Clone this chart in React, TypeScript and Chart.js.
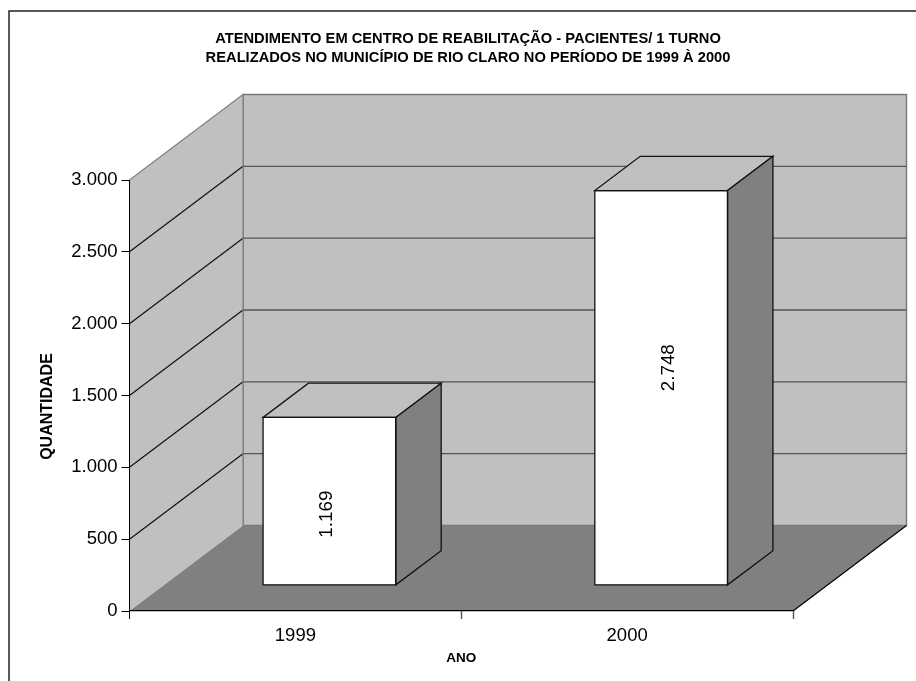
import { useEffect, useRef } from "react";
import { Chart, registerables } from "chart.js";

Chart.register(...registerables);

const categories = ["1999", "2000"];
const patients = [1169, 2748];
const titleLines = [
  "ATENDIMENTO EM CENTRO DE REABILITAÇÃO - PACIENTES/ 1 TURNO",
  "REALIZADOS NO MUNICÍPIO DE RIO CLARO NO PERÍODO DE 1999 À 2000",
];
const yAxisLabel = "QUANTIDADE";
const xAxisLabel = "ANO";

const FONT = "'Liberation Sans', Arial, sans-serif";
const WALL = "#c0c0c0";
const FLOOR = "#808080";
const EDGE = "#111111";

// Oblique projection of the box the plot sits in.
const DEPTH_X = 113.5;
const DEPTH_Y = -85.5;
const BAR_FRONT = 0.3;
const BAR_DEPTH = 0.4;

const fmt = (v: number) => String(v).replace(/\B(?=(\d{3})+$)/g, ".");

function poly(ctx: CanvasRenderingContext2D, pts: number[][], fill?: string, stroke?: string, lw = 1) {
  ctx.beginPath();
  pts.forEach(([x, y], i) => (i ? ctx.lineTo(x, y) : ctx.moveTo(x, y)));
  ctx.closePath();
  if (fill) {
    ctx.fillStyle = fill;
    ctx.fill();
  }
  if (stroke) {
    ctx.strokeStyle = stroke;
    ctx.lineWidth = lw;
    ctx.stroke();
  }
}

function segment(ctx: CanvasRenderingContext2D, x0: number, y0: number, x1: number, y1: number, color: string, lw = 1) {
  ctx.beginPath();
  ctx.moveTo(x0, y0);
  ctx.lineTo(x1, y1);
  ctx.strokeStyle = color;
  ctx.lineWidth = lw;
  ctx.stroke();
}

// Frame, walls, floor and the gridlines running across them.
const boxPlugin = {
  id: "box3d",
  afterLayout(chart: any) {
    chart.titleBlock.left += 71.5;
    chart.titleBlock.right += 71.5;
  },
  beforeDraw(chart: any) {
    const { ctx, scales } = chart;
    const y = scales.y;
    const l = chart.chartArea.left;
    const r = chart.chartArea.right;
    const t = y.getPixelForValue(3000);
    const b = y.getPixelForValue(0);
    ctx.save();
    ctx.strokeStyle = "#222";
    ctx.lineWidth = 1.5;
    ctx.strokeRect(9, 11, 1000, 1000);

    poly(ctx, [[l + DEPTH_X, t + DEPTH_Y], [r + DEPTH_X, t + DEPTH_Y], [r + DEPTH_X, b + DEPTH_Y], [l + DEPTH_X, b + DEPTH_Y]], WALL, "#777777", 1.4);
    poly(ctx, [[l, t], [l + DEPTH_X, t + DEPTH_Y], [l + DEPTH_X, b + DEPTH_Y], [l, b]], WALL);
    segment(ctx, l, t, l + DEPTH_X, t + DEPTH_Y, "#808080", 1.2);
    poly(ctx, [[l, b], [r, b], [r + DEPTH_X, b + DEPTH_Y], [l + DEPTH_X, b + DEPTH_Y]], FLOOR);
    segment(ctx, r, b, r + DEPTH_X, b + DEPTH_Y, "#000", 1.2);

    y.ticks.forEach((tick: any) => {
      if (tick.value === 0 || tick.value === 3000) return;
      const py = y.getPixelForValue(tick.value);
      segment(ctx, l, py, l + DEPTH_X, py + DEPTH_Y, "#111", 1.2);
      segment(ctx, l + DEPTH_X, py + DEPTH_Y, r + DEPTH_X, py + DEPTH_Y, "#555555", 1.4);
    });
    segment(ctx, l + DEPTH_X, t + DEPTH_Y, l + DEPTH_X, b + DEPTH_Y, "#808080", 1.2);
    ctx.restore();
  },
  // Front faces are drawn by the bar controller, pushed back into the box.
  beforeDatasetDraw(chart: any) {
    chart.ctx.save();
    chart.ctx.translate(DEPTH_X * BAR_FRONT, DEPTH_Y * BAR_FRONT);
  },
  afterDatasetDraw(chart: any, args: any) {
    const { ctx } = chart;
    const ox = DEPTH_X * BAR_DEPTH;
    const oy = DEPTH_Y * BAR_DEPTH;
    args.meta.data.forEach((bar: any) => {
      const { x, y, base, width } = bar.getProps(["x", "y", "base", "width"], true);
      const x0 = x - width / 2;
      const x1 = x + width / 2;
      poly(ctx, [[x0, y], [x1, y], [x1 + ox, y + oy], [x0 + ox, y + oy]], WALL, EDGE, 1.3);
      poly(ctx, [[x1, y], [x1 + ox, y + oy], [x1 + ox, base + oy], [x1, base]], FLOOR, EDGE, 1.3);
      poly(ctx, [[x0, y], [x1, y], [x1, base], [x0, base]], undefined, EDGE, 1.3);
    });
    ctx.restore();
  },
  afterDraw(chart: any) {
    const { ctx } = chart;
    ctx.save();
    ctx.fillStyle = "#000";
    ctx.textAlign = "center";
    ctx.textBaseline = "middle";

    // Rotated value labels inside the front faces.
    ctx.font = `18.8px ${FONT}`;
    const shifts = [[-2.5, 13], [7.5, -20]];
    chart.getDatasetMeta(0).data.forEach((bar: any, i: number) => {
      const { x, y, base } = bar.getProps(["x", "y", "base"], true);
      ctx.save();
      ctx.translate(
        x + DEPTH_X * BAR_FRONT + shifts[i][0],
        (y + base) / 2 + DEPTH_Y * BAR_FRONT + shifts[i][1]
      );
      ctx.rotate(-Math.PI / 2);
      ctx.fillText(fmt(patients[i]), 0, 0);
      ctx.restore();
    });

    // Vertical axis caption.
    ctx.font = `bold 16px ${FONT}`;
    ctx.translate(47.5, 406.5);
    ctx.rotate(-Math.PI / 2);
    ctx.fillText(yAxisLabel, 0, 0);
    ctx.restore();
  },
};

export default function App() {
  const ref = useRef<HTMLCanvasElement>(null);

  useEffect(() => {
    const chart = new Chart(ref.current!, {
      type: "bar",
      data: {
        labels: categories,
        datasets: [
          {
            data: patients,
            backgroundColor: "#ffffff",
            borderWidth: 0,
            barPercentage: 0.4,
            categoryPercentage: 1,
            clip: false,
          },
        ],
      },
      options: {
        responsive: false,
        animation: false,
        layout: { padding: { left: 0, right: 123, top: 0, bottom: 0 } },
        plugins: {
          legend: { display: false },
          tooltip: { enabled: false },
          title: {
            display: true,
            text: titleLines,
            color: "#000",
            font: { family: FONT, size: 14.7, weight: "bold", lineHeight: "19px" },
            padding: { top: 29, bottom: 113 },
          },
        },
        scales: {
          x: {
            afterFit: (s: any) => {
              s.height = 70;
            },
            grid: {
              drawOnChartArea: false,
              color: "#000",
              tickColor: (c: any) => (c.index === 0 ? "#000" : "#555"),
              tickWidth: (c: any) => (c.index === 0 ? 1 : 1.4),
              tickLength: 8,
            },
            border: { color: "#000", width: 1.2 },
            ticks: { color: "#000", padding: 6, font: { family: FONT, size: 18.5 }, maxRotation: 0 },
            title: {
              display: true,
              text: xAxisLabel,
              color: "#000",
              font: { family: FONT, size: 13.5, weight: "bold" },
              padding: { top: 0, bottom: 15 },
            },
          },
          y: {
            min: 0,
            max: 3000,
            afterFit: (s: any) => {
              s.width = 129.5;
            },
            grid: { drawOnChartArea: false, color: "#000", tickLength: 8 },
            border: { color: "#000", width: 1 },
            ticks: {
              stepSize: 500,
              color: "#000",
              padding: 4,
              font: { family: FONT, size: 18.5 },
              callback: (v: any) => fmt(Number(v)),
            },
          },
        },
      },
      plugins: [boxPlugin],
    } as any);
    return () => chart.destroy();
  }, []);

  return (
    <canvas
      ref={ref}
      width={916}
      height={681}
      style={{ position: "fixed", left: 0, top: 0, display: "block" }}
    />
  );
}
